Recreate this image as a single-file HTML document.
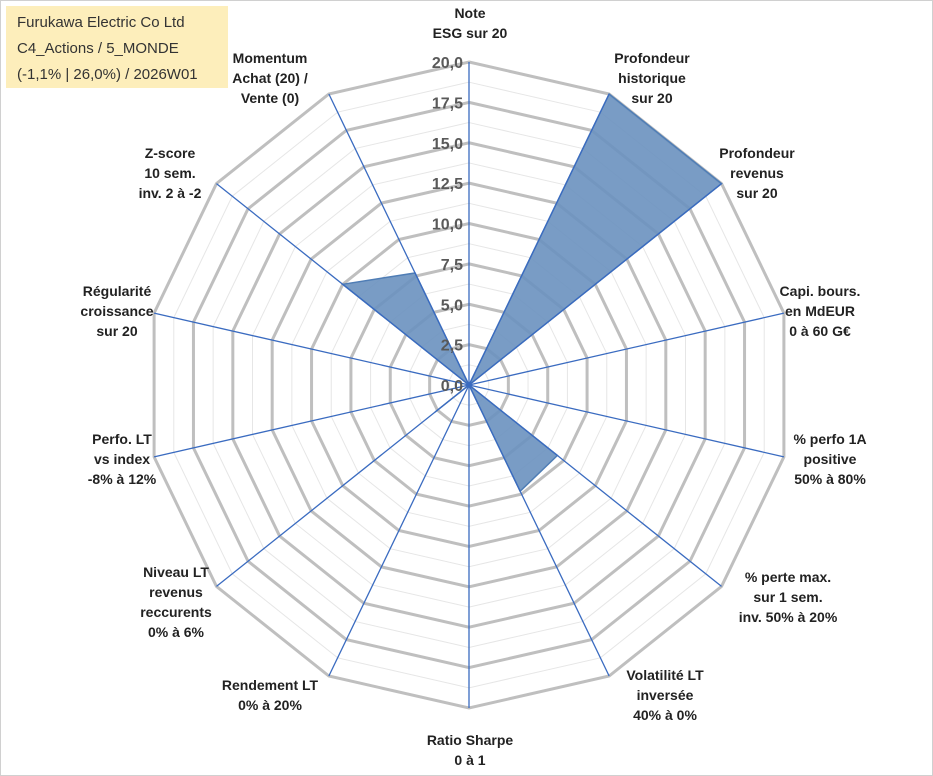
<!DOCTYPE html>
<html><head><meta charset="utf-8"><style>
body{margin:0;background:#fff;}
svg{display:block;font-family:"Liberation Sans",sans-serif;}
.lbl{font-weight:bold;font-size:14px;fill:#222;text-anchor:middle;}
.tick{font-weight:bold;font-size:16px;fill:#595959;text-anchor:end;}
</style></head><body>
<svg id="c" width="933" height="776">
<rect x="0.5" y="0.5" width="932" height="775" fill="#fff" stroke="#d0d0d0"/>
<g id="grid"></g><g id="series"></g><g id="axes"></g><g id="labels"></g>
<rect x="6" y="6" width="222" height="82" fill="#fdeebb"/>
<text x="17" y="27" font-size="15" fill="#333">Furukawa Electric Co Ltd</text>
<text x="17" y="53" font-size="15" fill="#333">C4_Actions / 5_MONDE</text>
<text x="17" y="79" font-size="15" fill="#333">(-1,1% | 26,0%) / 2026W01</text>
</svg>
<script>
const categories=[["Note","ESG sur 20"],["Profondeur","historique","sur 20"],["Profondeur","revenus","sur 20"],["Capi. bours.","en MdEUR","0 à 60 G€"],["% perfo 1A","positive","50% à 80%"],["% perte max.","sur 1 sem.","inv. 50% à 20%"],["Volatilité LT","inversée","40% à 0%"],["Ratio Sharpe","0 à 1"],["Rendement LT","0% à 20%"],["Niveau LT","revenus","reccurents","0% à 6%"],["Perfo. LT","vs index","-8% à 12%"],["Régularité","croissance","sur 20"],["Z-score","10 sem.","inv. 2 à -2"],["Momentum","Achat (20) /","Vente (0)"]];
const values=[0,20,20,0,0,7.0,7.3,0,0,2.7,0,0,10,7.7];
const tickLabels=["0,0","2,5","5,0","7,5","10,0","12,5","15,0","17,5","20,0"];
const maxV=20;
const cx=469,cy=385,R=323,N=categories.length;
const NS="http://www.w3.org/2000/svg";
function mk(t,a,p){const e=document.createElementNS(NS,t);for(const k in a)e.setAttribute(k,a[k]);p.appendChild(e);return e;}
function pt(i,v){const a=2*Math.PI*i/N;const r=v/maxV*R;return [cx+r*Math.sin(a),cy-r*Math.cos(a)];}
const grid=document.getElementById('grid');
for(let s=1;s<=16;s++){const v=s*maxV/16;const pts=[];for(let i=0;i<N;i++)pts.push(pt(i,v).join(','));
const major=s%2===0;const g=mk('polygon',{points:pts.join(' '),fill:'none',stroke:major?'#bfbfbf':'#e6e6e6','stroke-width':major?3:1},grid);

}
const ser=document.getElementById('series');
const poly=mk('polygon',{points:values.map((v,i)=>pt(i,v).join(',')).join(' '),fill:'#6a91bf','fill-opacity':0.9,stroke:'#4f7db5','stroke-width':1.5},ser);


const ax=document.getElementById('axes');
for(let i=0;i<N;i++){const p=pt(i,maxV);const l=mk('line',{x1:cx,y1:cy,x2:p[0],y2:p[1],stroke:'#3a6bc0','stroke-width':1.3},ax);

}
const lb=document.getElementById('labels');
tickLabels.forEach((t,k)=>{const v=k*maxV/(tickLabels.length-1);const e=mk('text',{x:cx-6,y:cy-v/maxV*R+6,class:'tick'},lb);e.textContent=t;

});
const lpos=[[470,18],[652,63],[757,158],[820,296],[830,444],[788,582],[665,680],[470,745],[270,690],[176,577],[122,444],[117,296],[170,158],[270,63]];
categories.forEach((c,i)=>{const t=mk('text',{x:lpos[i][0],y:lpos[i][1],class:'lbl'},lb);


c.forEach((s,j)=>{const ts=mk('tspan',{x:lpos[i][0],dy:j?20:0},t);ts.textContent=s;});});
</script>
</body></html>
